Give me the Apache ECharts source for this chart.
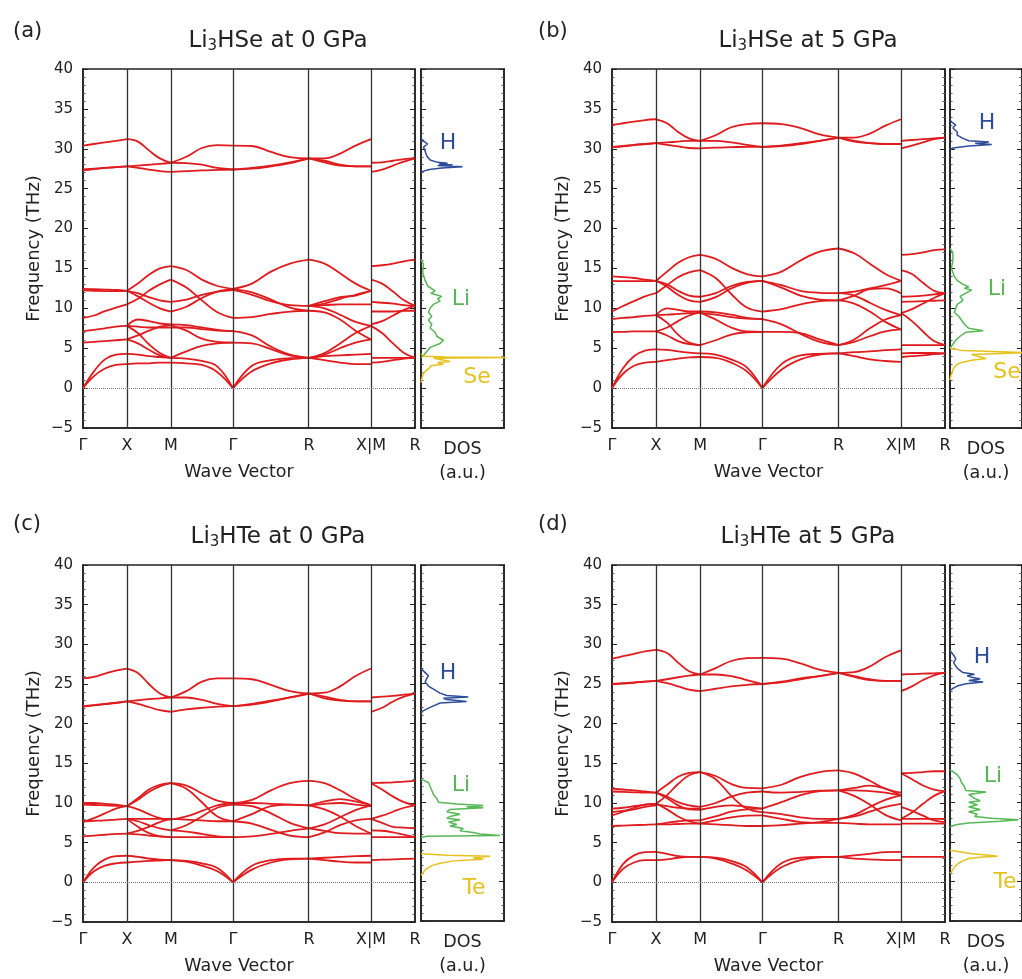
<!DOCTYPE html>
<html>
<head>
<meta charset="utf-8">
<title>Li3HSe / Li3HTe phonon bands and DOS</title>
<script src="https://cdn.jsdelivr.net/npm/echarts@6/dist/echarts.min.js"></script>
<style>
  html, body { margin: 0; padding: 0; background: #fff; }
  #chart { width: 1022px; height: 979px; }
</style>
</head>
<body>
<div id="chart"></div>
<script>
// high-symmetry path  G-X-M-G-R-X | M-R  (simple cubic, units of 2pi/a)
const kNodes = [0, 0.5, 1.0, 1.7071, 2.5731, 3.2802, 3.7802];
const kLabels = ['Γ', 'X', 'M', 'Γ', 'R', 'X|M', 'R'];
const segFrac = [0, 0.25, 0.5, 0.75, 1];   // sample points inside each segment
const yTicks = [-5, 40, 5];                 // min, max, step (THz)

// ---- (a) Li3HSe 0 GPa : frequencies (THz) at segFrac of each segment
const aGX = [
  [30.4, 30.6, 30.8, 31.0, 31.2], [27.4, 27.5, 27.6, 27.7, 27.8], [27.3, 27.45, 27.6, 27.7, 27.8],
  [12.45, 12.4, 12.35, 12.3, 12.2], [12.25, 12.2, 12.15, 12.15, 12.2], [8.8, 9.1, 9.65, 10.1, 10.5],
  [7.15, 7.3, 7.5, 7.7, 7.8], [5.7, 5.8, 5.9, 6.0, 6.1], [0, 2.1, 3.6, 4.2, 4.3], [0, 1.5, 2.45, 2.9, 3.0]
];
const aXM = [
  [31.2, 30.9, 29.8, 28.8, 28.25], [27.8, 27.9, 28.0, 28.1, 28.25], [27.8, 27.6, 27.4, 27.2, 27.1],
  [12.2, 13.1, 14.2, 15.0, 15.3], [10.5, 11.2, 12.2, 13.0, 13.6], [12.2, 11.9, 11.4, 11.0, 10.8],
  [12.2, 11.5, 10.7, 10.0, 9.6], [7.8, 8.6, 8.4, 8.1, 8.0], [7.8, 7.7, 7.6, 7.6, 7.6],
  [6.1, 6.6, 7.2, 7.7, 7.9], [7.8, 6.9, 5.5, 4.4, 3.8], [6.1, 5.6, 4.8, 4.1, 3.8],
  [4.3, 4.2, 4.0, 3.9, 3.8], [3.0, 3.1, 3.1, 3.2, 3.2]
];
const aMG = [
  [28.25, 29.0, 30.1, 30.45, 30.4], [28.25, 28.2, 28.0, 27.6, 27.4], [27.1, 27.2, 27.3, 27.35, 27.4],
  [15.3, 14.8, 13.6, 12.8, 12.45], [13.6, 12.6, 11.0, 9.5, 8.8], [10.8, 11.1, 11.7, 12.1, 12.3],
  [9.6, 10.2, 11.3, 12.1, 12.4], [8.0, 7.9, 7.6, 7.3, 7.15], [7.6, 7.6, 7.4, 7.2, 7.15],
  [7.9, 7.2, 6.2, 5.8, 5.7], [3.8, 4.6, 5.3, 5.6, 5.7], [3.8, 3.7, 3.4, 2.7, 0], [3.2, 3.1, 2.9, 2.0, 0]
];
const aGR = [
  [30.4, 30.35, 29.6, 28.95, 28.8], [27.4, 27.6, 27.9, 28.3, 28.8], [27.4, 27.5, 27.8, 28.2, 28.8],
  [12.45, 13.1, 14.6, 15.6, 16.1], [12.3, 11.7, 10.9, 10.4, 10.3], [12.4, 12.0, 11.1, 10.1, 9.7],
  [8.8, 8.9, 9.3, 9.6, 9.7], [7.15, 6.6, 5.2, 4.2, 3.8], [5.7, 5.6, 4.9, 4.1, 3.8],
  [0, 2.8, 3.5, 3.75, 3.8], [0, 2.1, 3.1, 3.6, 3.8]
];
const aRX = [
  [28.8, 28.8, 29.4, 30.4, 31.2], [28.8, 28.5, 28.0, 27.8, 27.8], [28.8, 28.3, 27.9, 27.8, 27.8],
  [16.1, 15.6, 14.4, 13.1, 12.2], [10.3, 10.6, 11.2, 11.7, 12.2], [10.3, 10.9, 11.4, 11.6, 12.2],
  [10.3, 10.4, 10.5, 10.5, 10.5], [10.3, 10.0, 9.2, 8.3, 7.8], [9.7, 9.5, 8.6, 7.2, 6.1],
  [3.8, 4.4, 5.6, 6.9, 7.8], [3.8, 4.2, 5.0, 5.7, 6.1], [3.8, 4.0, 4.1, 4.2, 4.3], [3.8, 3.5, 3.2, 3.0, 3.0]
];
const aMR = [
  [28.25, 28.3, 28.5, 28.7, 28.8], [27.1, 27.4, 27.9, 28.4, 28.8], [15.3, 15.4, 15.6, 15.9, 16.1],
  [13.6, 13.1, 12.1, 11.0, 10.3], [10.8, 10.7, 10.6, 10.4, 10.3], [9.6, 9.6, 9.6, 9.7, 9.7],
  [8.0, 8.4, 9.1, 9.8, 10.3], [7.8, 6.9, 5.6, 4.4, 3.8], [3.8, 3.8, 3.8, 3.8, 3.8], [3.2, 3.3, 3.5, 3.7, 3.8]
];

// ---- (b) Li3HSe 5 GPa
const bGX = [
  [33.0, 33.2, 33.4, 33.6, 33.7], [30.25, 30.35, 30.5, 30.6, 30.7], [30.2, 30.3, 30.45, 30.6, 30.7],
  [14.0, 13.9, 13.8, 13.6, 13.45], [13.45, 13.4, 13.4, 13.4, 13.45], [9.6, 10.3, 10.9, 11.5, 11.9],
  [8.65, 8.8, 8.9, 9.05, 9.15], [7.05, 7.05, 7.1, 7.1, 7.1], [0, 2.5, 4.0, 4.7, 4.85], [0, 1.8, 2.8, 3.2, 3.3]
];
const bXM = [
  [33.7, 33.2, 32.1, 31.3, 31.0], [30.7, 30.8, 30.9, 31.0, 31.0], [30.7, 30.5, 30.3, 30.1, 30.05],
  [13.45, 14.6, 15.7, 16.4, 16.7], [11.9, 12.9, 13.9, 14.5, 14.8], [13.45, 13.0, 12.2, 11.6, 11.45],
  [13.45, 12.7, 11.7, 11.0, 10.8], [9.15, 10.0, 9.8, 9.6, 9.6], [9.15, 9.2, 9.3, 9.4, 9.4],
  [7.1, 7.6, 8.4, 9.1, 9.5], [9.15, 8.2, 6.7, 5.7, 5.4], [7.1, 6.6, 5.9, 5.5, 5.4],
  [4.85, 4.8, 4.6, 4.45, 4.35], [3.3, 3.5, 3.7, 3.85, 3.9]
];
const bMG = [
  [31.0, 31.7, 32.7, 33.1, 33.2], [31.0, 31.0, 30.8, 30.5, 30.25], [30.05, 30.15, 30.2, 30.25, 30.25],
  [16.7, 16.2, 15.1, 14.3, 14.0], [14.8, 13.8, 11.8, 10.1, 9.6], [11.45, 11.9, 12.8, 13.3, 13.45],
  [10.8, 11.4, 12.5, 13.2, 13.45], [9.6, 9.5, 9.2, 8.8, 8.65], [9.4, 9.2, 8.9, 8.7, 8.65],
  [9.5, 8.6, 7.6, 7.1, 7.05], [5.4, 6.0, 6.7, 7.0, 7.05], [4.35, 4.2, 3.6, 2.6, 0], [3.9, 3.8, 3.2, 2.1, 0]
];
const bGR = [
  [33.2, 33.1, 32.6, 31.8, 31.4], [30.25, 30.4, 30.7, 31.0, 31.4], [30.25, 30.35, 30.6, 31.0, 31.4],
  [14.0, 14.6, 16.0, 17.1, 17.5], [13.45, 12.9, 12.2, 11.95, 11.9], [13.45, 12.6, 11.6, 11.1, 11.0],
  [9.6, 9.9, 10.5, 10.9, 11.0], [8.65, 8.0, 6.8, 5.8, 5.4], [7.05, 7.05, 6.9, 6.1, 5.4],
  [0, 3.0, 4.1, 4.3, 4.35], [0, 2.3, 3.6, 4.2, 4.35]
];
const bRX = [
  [31.4, 31.4, 31.9, 32.9, 33.7], [31.4, 31.0, 30.7, 30.6, 30.6], [31.4, 30.9, 30.7, 30.6, 30.6],
  [17.5, 16.9, 15.6, 14.3, 13.45], [11.9, 12.1, 12.5, 12.9, 13.45], [11.0, 11.6, 12.4, 12.5, 11.9],
  [11.0, 10.6, 9.6, 8.3, 7.35], [11.9, 11.6, 10.7, 9.8, 9.15], [5.4, 6.1, 7.5, 8.6, 9.15],
  [5.4, 5.8, 6.5, 7.1, 7.35], [4.35, 4.5, 4.6, 4.75, 4.85], [4.35, 4.0, 3.6, 3.4, 3.3]
];
const bMR = [
  [31.0, 31.1, 31.2, 31.3, 31.4], [30.05, 30.4, 30.8, 31.2, 31.4], [16.7, 16.8, 17.0, 17.3, 17.4],
  [14.8, 14.3, 13.2, 12.2, 11.9], [11.45, 11.5, 11.6, 11.75, 11.9], [10.8, 10.85, 10.9, 10.95, 11.0],
  [9.4, 9.9, 10.6, 11.3, 11.9], [9.4, 8.4, 7.1, 5.9, 5.4], [5.4, 5.4, 5.4, 5.4, 5.4],
  [4.35, 4.4, 4.4, 4.4, 4.35], [3.9, 4.0, 4.1, 4.25, 4.35]
];

// ---- (c) Li3HTe 0 GPa
const cGX = [
  [25.7, 25.9, 26.3, 26.7, 26.95], [22.2, 22.35, 22.5, 22.65, 22.8], [22.15, 22.3, 22.45, 22.6, 22.8],
  [10.0, 10.0, 9.9, 9.8, 9.6], [9.8, 9.75, 9.7, 9.65, 9.6], [7.6, 8.1, 8.7, 9.3, 9.6],
  [7.7, 7.75, 7.8, 7.9, 8.0], [5.8, 5.9, 6.0, 6.1, 6.15], [0, 1.9, 2.9, 3.3, 3.35], [0, 1.4, 2.1, 2.4, 2.5]
];
const cXM = [
  [26.95, 26.4, 25.0, 23.8, 23.3], [22.8, 22.95, 23.1, 23.2, 23.3], [22.8, 22.5, 22.1, 21.7, 21.5],
  [9.6, 10.6, 11.7, 12.3, 12.5], [9.6, 10.4, 11.4, 12.1, 12.5], [9.6, 9.2, 8.6, 8.1, 7.9],
  [8.0, 7.7, 7.2, 6.8, 6.55], [8.0, 8.0, 8.0, 8.0, 8.0], [6.15, 6.5, 7.0, 7.6, 8.0],
  [8.0, 7.0, 6.2, 5.8, 5.7], [6.15, 6.05, 5.9, 5.8, 5.7], [3.35, 3.2, 3.0, 2.85, 2.8], [2.5, 2.6, 2.7, 2.75, 2.8]
];
const cMG = [
  [23.3, 24.1, 25.3, 25.7, 25.7], [23.3, 23.3, 23.0, 22.5, 22.2], [21.5, 21.8, 22.0, 22.15, 22.2],
  [12.5, 12.2, 11.2, 10.3, 10.0], [12.5, 11.8, 10.1, 8.3, 7.7], [7.9, 8.3, 9.0, 9.7, 10.0],
  [6.55, 7.2, 8.3, 9.4, 9.8], [8.0, 7.9, 7.8, 7.7, 7.7], [5.7, 5.7, 5.7, 5.7, 5.7],
  [6.55, 6.4, 6.1, 5.8, 5.7], [2.8, 2.7, 2.4, 1.8, 0], [2.8, 2.6, 2.1, 1.4, 0]
];
const cGR = [
  [25.7, 25.6, 24.9, 24.1, 23.8], [22.2, 22.5, 22.9, 23.3, 23.8], [22.2, 22.4, 22.8, 23.3, 23.8],
  [10.0, 10.4, 11.6, 12.5, 12.8], [10.0, 10.0, 9.9, 9.8, 9.7], [9.8, 9.6, 8.7, 7.5, 6.8],
  [7.7, 8.6, 9.6, 9.8, 9.7], [7.7, 7.4, 6.6, 5.9, 5.7], [5.7, 5.8, 6.1, 6.5, 6.8],
  [0, 2.1, 2.8, 3.0, 3.0], [0, 1.6, 2.5, 2.9, 3.0]
];
const cRX = [
  [23.8, 23.9, 24.7, 26.0, 26.95], [23.8, 23.2, 22.9, 22.8, 22.8], [23.8, 23.4, 23.0, 22.8, 22.8],
  [12.8, 12.5, 11.6, 10.5, 9.7], [9.7, 10.2, 10.5, 10.2, 9.7], [9.7, 9.9, 10.0, 9.8, 9.6],
  [6.8, 7.3, 8.2, 9.1, 9.7], [5.7, 6.3, 7.2, 7.8, 8.0], [9.7, 9.2, 8.3, 7.1, 6.15],
  [6.8, 6.5, 6.2, 6.15, 6.15], [3.0, 3.1, 3.2, 3.3, 3.35], [3.0, 2.8, 2.6, 2.5, 2.5]
];
const cMR = [
  [23.3, 23.4, 23.5, 23.65, 23.8], [21.5, 22.0, 22.8, 23.4, 23.8], [12.5, 12.55, 12.6, 12.7, 12.8],
  [12.5, 11.7, 10.8, 10.1, 9.7], [8.0, 8.4, 8.9, 9.4, 9.7], [8.0, 7.5, 7.0, 6.9, 6.8],
  [6.55, 6.5, 6.3, 6.0, 5.7], [5.7, 5.7, 5.7, 5.7, 5.7], [2.8, 2.85, 2.9, 2.95, 3.0]
];

// ---- (d) Li3HTe 5 GPa
const dGX = [
  [28.2, 28.5, 28.8, 29.1, 29.3], [25.0, 25.1, 25.2, 25.3, 25.4], [24.95, 25.05, 25.15, 25.3, 25.4],
  [11.8, 11.7, 11.6, 11.45, 11.3], [11.45, 11.4, 11.35, 11.3, 11.3], [8.45, 8.9, 9.4, 9.8, 9.9],
  [9.3, 9.4, 9.6, 9.8, 9.9], [8.85, 9.0, 9.2, 9.5, 9.7], [7.1, 7.15, 7.2, 7.25, 7.3],
  [0, 2.3, 3.4, 3.8, 3.85], [0, 1.7, 2.5, 2.8, 2.8]
];
const dXM = [
  [29.3, 28.9, 27.7, 26.6, 26.2], [25.4, 25.6, 25.85, 26.05, 26.2], [25.4, 25.1, 24.7, 24.3, 24.1],
  [11.3, 12.3, 13.3, 13.8, 13.9], [9.9, 11.0, 12.4, 13.5, 13.9], [11.3, 10.8, 10.1, 9.7, 9.5],
  [11.3, 10.6, 9.7, 9.2, 9.15], [9.9, 9.6, 9.4, 9.3, 9.3], [9.9, 9.2, 8.3, 7.7, 7.4],
  [7.3, 7.5, 7.7, 7.8, 7.8], [7.3, 7.3, 7.35, 7.4, 7.4], [3.85, 3.6, 3.3, 3.2, 3.2], [2.8, 2.9, 3.1, 3.2, 3.2]
];
const dMG = [
  [26.2, 27.0, 27.9, 28.25, 28.3], [26.2, 26.2, 26.0, 25.5, 25.0], [24.1, 24.4, 24.7, 24.9, 25.0],
  [13.9, 13.4, 12.4, 11.9, 11.85], [13.9, 13.0, 10.9, 9.3, 8.85], [9.5, 10.0, 10.8, 11.3, 11.45],
  [9.15, 9.5, 9.7, 9.5, 9.3], [7.8, 8.3, 8.9, 9.2, 9.3], [7.4, 7.8, 8.2, 8.4, 8.45],
  [7.4, 7.3, 7.2, 7.1, 7.1], [3.2, 3.1, 2.7, 1.9, 0], [3.2, 3.0, 2.4, 1.5, 0]
];
const dGR = [
  [28.3, 28.2, 27.6, 26.8, 26.4], [25.0, 25.3, 25.7, 26.0, 26.4], [25.0, 25.2, 25.6, 26.0, 26.4],
  [11.85, 12.3, 13.3, 13.9, 14.1], [11.45, 11.3, 11.4, 11.55, 11.6], [9.3, 10.1, 11.0, 11.5, 11.6],
  [8.85, 8.6, 8.2, 8.0, 8.0], [8.45, 8.0, 7.6, 7.5, 7.5], [7.1, 7.2, 7.4, 7.6, 8.0],
  [0, 2.4, 3.1, 3.2, 3.2], [0, 1.9, 2.8, 3.15, 3.2]
];
const dRX = [
  [26.4, 26.5, 27.2, 28.4, 29.25], [26.4, 25.9, 25.5, 25.4, 25.4], [26.4, 26.0, 25.6, 25.4, 25.4],
  [14.1, 13.7, 12.8, 11.8, 11.3], [11.6, 11.9, 12.2, 11.8, 10.95], [11.6, 11.6, 11.5, 11.3, 10.95],
  [8.0, 8.5, 9.5, 10.4, 10.95], [8.0, 8.3, 8.9, 9.5, 9.9], [11.6, 10.9, 9.8, 8.5, 7.8],
  [7.5, 7.4, 7.3, 7.3, 7.3], [3.2, 3.4, 3.6, 3.8, 3.85], [3.2, 3.0, 2.9, 2.8, 2.8]
];
const dMR = [
  [26.2, 26.25, 26.3, 26.35, 26.4], [24.1, 24.7, 25.5, 26.1, 26.4], [13.75, 13.8, 13.9, 14.0, 14.0],
  [13.75, 13.0, 12.2, 11.7, 11.5], [8.0, 8.8, 9.9, 10.9, 11.5], [9.5, 9.0, 8.4, 7.8, 7.6],
  [8.0, 8.0, 8.0, 8.0, 8.0], [7.4, 7.4, 7.4, 7.4, 7.4], [3.2, 3.2, 3.2, 3.2, 3.2]
];

// ---- projected DOS: [frequency THz, DOS a.u. (0..1 of panel width)]
const aDosH = [[31.3,0],[30.9,0.04],[30.6,0.08],[30.2,0.03],[29.7,0.05],[29.1,0.07],[28.6,0.11],[28.3,0.2],[28.2,0.32],[28.1,0.22],[28.0,0.38],[27.9,0.2],[27.75,0.5],[27.6,0.25],[27.4,0.1],[27.2,0.03],[27.0,0]];
const aDosLi = [[16.1,0],[15.5,0.03],[14.5,0.02],[13.5,0.05],[12.8,0.08],[12.2,0.17],[11.9,0.12],[11.5,0.25],[11.2,0.2],[10.9,0.23],[10.5,0.15],[10.0,0.11],[9.5,0.09],[9.0,0.13],[8.5,0.09],[8.0,0.13],[7.5,0.11],[7.0,0.17],[6.5,0.19],[6.0,0.27],[5.6,0.23],[5.1,0.11],[4.6,0.07],[4.1,0.03],[3.8,0]];
const aDosSe = [[4.3,0],[4.0,0.04],[3.9,0.3],[3.85,1.05],[3.75,0.15],[3.55,0.25],[3.35,0.35],[3.2,0.2],[3.0,0.27],[2.8,0.12],[2.5,0.1],[2.1,0.05],[1.6,0.02],[1.0,0.005],[0.7,0]];
const bDosH = [[33.6,0],[33.3,0.03],[33.0,0.08],[32.6,0.04],[32.1,0.1],[31.7,0.1],[31.3,0.18],[31.0,0.26],[30.85,0.54],[30.7,0.35],[30.55,0.58],[30.35,0.26],[30.1,0.04],[29.9,0]];
const bDosLi = [[17.5,0],[17.0,0.04],[16.0,0.04],[15.0,0.02],[14.0,0.06],[13.5,0.1],[13.0,0.18],[12.7,0.26],[12.5,0.2],[12.3,0.3],[12.0,0.24],[11.5,0.14],[11.0,0.18],[10.5,0.1],[10.0,0.08],[9.5,0.06],[9.0,0.12],[8.5,0.16],[8.0,0.2],[7.5,0.26],[7.2,0.46],[7.0,0.22],[6.5,0.14],[6.0,0.08],[5.5,0.04],[5.0,0]];
const bDosSe = [[5.0,0],[4.7,0.18],[4.45,1.05],[4.2,0.3],[4.0,0.38],[3.7,0.5],[3.5,0.3],[3.2,0.16],[3.0,0.1],[2.5,0.05],[2.0,0.03],[1.5,0.01],[1.0,0]];
const cDosH = [[26.9,0],[26.4,0.05],[26.0,0.09],[25.7,0.07],[25.2,0.05],[24.7,0.09],[24.3,0.15],[23.8,0.23],[23.5,0.31],[23.3,0.57],[23.15,0.27],[23.0,0.31],[22.75,0.55],[22.55,0.23],[22.0,0.11],[21.6,0.03],[21.3,0]];
const cDosLi = [[12.9,0],[12.5,0.09],[12.0,0.11],[11.5,0.13],[11.0,0.15],[10.5,0.19],[10.0,0.21],[9.8,0.43],[9.6,0.75],[9.45,0.55],[9.3,0.75],[9.1,0.35],[8.8,0.31],[8.5,0.47],[8.2,0.35],[8.0,0.31],[7.8,0.47],[7.5,0.33],[7.2,0.43],[7.0,0.35],[6.7,0.51],[6.4,0.47],[6.2,0.63],[6.0,0.71],[5.8,0.95],[5.7,0.07],[5.55,0]];
const cDosTe = [[3.5,0],[3.3,0.31],[3.2,0.83],[3.0,0.63],[2.8,0.75],[2.6,0.39],[2.3,0.23],[2.0,0.13],[1.5,0.05],[1.0,0.02],[0.8,0]];
const dDosH = [[29.3,0],[28.9,0.02],[28.5,0.06],[28.1,0.08],[27.7,0.05],[27.2,0.08],[26.8,0.12],[26.4,0.18],[26.2,0.34],[26.0,0.24],[25.8,0.3],[25.6,0.42],[25.4,0.26],[25.2,0.46],[25.0,0.22],[24.7,0.1],[24.4,0.04],[24.1,0]];
const dDosLi = [[14.1,0],[14.0,0.02],[13.5,0.1],[13.0,0.14],[12.5,0.16],[12.0,0.2],[11.5,0.22],[11.3,0.5],[11.0,0.26],[10.5,0.34],[10.2,0.42],[10.0,0.26],[9.7,0.38],[9.4,0.26],[9.1,0.42],[8.8,0.26],[8.5,0.38],[8.2,0.34],[8.0,0.58],[7.8,0.95],[7.6,0.7],[7.4,0.26],[7.2,0.1],[7.0,0.02],[6.9,0]];
const dDosTe = [[3.95,0],[3.9,0.02],[3.7,0.18],[3.5,0.3],[3.3,0.54],[3.2,0.66],[3.1,0.46],[2.9,0.26],[2.6,0.18],[2.3,0.12],[2.0,0.08],[1.5,0.04],[1.2,0.02],[1.0,0]];

const FONT = '"DejaVu Sans", Verdana, sans-serif';
const INK = '#222';
const RED = '#e01b1e';
const COL = { H: '#2d4c99', Li: '#55b755', X: '#e6c01c' };

const panels = [
  { tag: '(a)', sub: 'HSe at 0 GPa', x: 83, y: 69, w: 332, dosX: 421,
    bands: [aGX, aXM, aMG, aGR, aRX, aMR], dos: [aDosH, aDosLi, aDosSe], anion: 'Se',
    tagPos: [13, 32], titlePos: [278, 41], lab: { H: [448, 143], Li: [461, 299], X: [477, 377] } },
  { tag: '(b)', sub: 'HSe at 5 GPa', x: 612, y: 69, w: 333, dosX: 950,
    bands: [bGX, bXM, bMG, bGR, bRX, bMR], dos: [bDosH, bDosLi, bDosSe], anion: 'Se',
    tagPos: [538, 32], titlePos: [808, 41], lab: { H: [987, 123], Li: [997, 289], X: [1007, 372] } },
  { tag: '(c)', sub: 'HTe at 0 GPa', x: 83, y: 565, w: 332, dosX: 421,
    bands: [cGX, cXM, cMG, cGR, cRX, cMR], dos: [cDosH, cDosLi, cDosTe], anion: 'Te',
    tagPos: [13, 525], titlePos: [278, 537], lab: { H: [448, 673], Li: [461, 785], X: [474, 888] } },
  { tag: '(d)', sub: 'HTe at 5 GPa', x: 612, y: 565, w: 333, dosX: 950,
    bands: [dGX, dXM, dMG, dGR, dRX, dMR], dos: [dDosH, dDosLi, dDosTe], anion: 'Te',
    tagPos: [538, 525], titlePos: [808, 537], lab: { H: [982, 657], Li: [993, 776], X: [1005, 882] } }
];

const fmtY = v => (v < 0 ? '\u2212' + (-v) : String(v));
const fmtK = v => {
  const i = kNodes.findIndex(k => Math.abs(k - v) < 1e-6);
  return i < 0 ? '' : kLabels[i];
};

const option = {
  animation: false,
  backgroundColor: '#fff',
  grid: [], xAxis: [], yAxis: [], series: [], graphic: []
};

function yAxisBase(gi) {
  return {
    gridIndex: gi, type: 'value', min: yTicks[0], max: yTicks[1], interval: yTicks[2],
    axisLine: { show: true, onZero: false, lineStyle: { color: INK, width: 1.6 } },
    axisTick: { show: true, inside: true, length: 5, lineStyle: { color: INK } },
    minorTick: { show: true, splitNumber: 5, length: 2.5, lineStyle: { color: '#555' } },
    splitLine: { show: false }
  };
}

panels.forEach(p => {
  const H = 359;
  const gB = option.grid.length;
  option.grid.push({ left: p.x, top: p.y, width: p.w, height: H, show: true, borderColor: INK, borderWidth: 1.6 });
  const gD = option.grid.length;
  option.grid.push({ left: p.dosX, top: p.y, width: 83, height: H, show: true, borderColor: INK, borderWidth: 1.6 });

  const xB = option.xAxis.length;
  option.xAxis.push({
    gridIndex: gB, type: 'value', min: kNodes[0], max: kNodes[kNodes.length - 1],
    axisLine: { show: true, onZero: false, lineStyle: { color: INK, width: 1.6 } },
    axisTick: { show: false }, splitLine: { show: false },
    axisLabel: { customValues: kNodes, formatter: fmtK, hideOverlap: false,
      fontSize: 16, fontFamily: FONT, color: INK, margin: 10 },
    name: 'Wave Vector', nameLocation: 'middle', nameGap: 32,
    nameTextStyle: { fontSize: 17.5, fontFamily: FONT, color: INK, lineHeight: 24, padding: [0, 20, 0, 0] }
  });
  const xD = option.xAxis.length;
  option.xAxis.push({
    gridIndex: gD, type: 'value', min: 0, max: 1,
    axisLine: { show: true, onZero: false, lineStyle: { color: INK, width: 1.6 } },
    axisTick: { show: false }, axisLabel: { show: false }, splitLine: { show: false },
    name: 'DOS\n(a.u.)', nameLocation: 'middle', nameGap: 9,
    nameTextStyle: { fontSize: 17.5, fontFamily: FONT, color: INK, lineHeight: 24 }
  });

  const yB = option.yAxis.length;
  option.yAxis.push(Object.assign(yAxisBase(gB), {
    axisLabel: { fontSize: 15, fontFamily: FONT, color: INK, margin: 10, formatter: fmtY },
    name: 'Frequency (THz)', nameLocation: 'middle', nameGap: 40,
    nameTextStyle: { fontSize: 18, fontFamily: FONT, color: INK }
  }));
  option.yAxis.push(Object.assign(yAxisBase(gB), { position: 'right', axisLabel: { show: false } }));
  const yD = option.yAxis.length;
  option.yAxis.push(Object.assign(yAxisBase(gD), { axisLabel: { show: false } }));
  option.yAxis.push(Object.assign(yAxisBase(gD), { position: 'right', axisLabel: { show: false } }));

  // band curves, one line per traced branch in every path segment
  let first = true;
  p.bands.forEach((curves, s) => {
    const k0 = kNodes[s], k1 = kNodes[s + 1];
    curves.forEach(c => {
      const ser = {
        type: 'line', xAxisIndex: xB, yAxisIndex: yB, silent: true,
        smooth: 0.4, symbol: 'none',
        lineStyle: { color: RED, width: 1.8 },
        data: c.map((f, i) => [k0 + segFrac[i] * (k1 - k0), f]),
        z: 3
      };
      if (first) {
        ser.markLine = {
          silent: true, symbol: ['none', 'none'], label: { show: false },
          lineStyle: { color: '#333', width: 1.3, type: 'solid' },
          data: kNodes.slice(1, -1).map(k => ({ xAxis: k }))
            .concat([{ yAxis: 0, lineStyle: { color: '#777', type: 'dotted', width: 1 } }])
        };
        first = false;
      }
      option.series.push(ser);
    });
  });

  // projected DOS
  [['H', p.dos[0]], ['Li', p.dos[1]], ['X', p.dos[2]]].forEach(([el, pts]) => {
    option.series.push({
      type: 'line', xAxisIndex: xD, yAxisIndex: yD, silent: true, symbol: 'none',
      lineStyle: { color: COL[el], width: 1.5 },
      data: pts.map(d => [d[1], d[0]]), z: 3
    });
  });

  // texts
  option.graphic.push({
    type: 'text', x: p.tagPos[0], y: p.tagPos[1], silent: true,
    style: { text: p.tag, fontSize: 21, fontFamily: FONT, fill: INK, align: 'left', verticalAlign: 'middle' }
  });
  option.graphic.push({
    type: 'text', x: p.titlePos[0], y: p.titlePos[1], silent: true,
    style: {
      text: '{m|Li}{s|3}{m|' + p.sub + '}', fontSize: 23, fontFamily: FONT, fill: INK,
      align: 'center', verticalAlign: 'middle',
      rich: {
        m: { fontSize: 23, fontFamily: FONT, fill: INK },
        s: { fontSize: 15, fontFamily: FONT, fill: INK, padding: [10, 0, 0, 0] }
      }
    }
  });
  [['H', 'H'], ['Li', 'Li'], ['X', p.anion]].forEach(([el, txt]) => {
    option.graphic.push({
      type: 'text', x: p.lab[el][0], y: p.lab[el][1], silent: true,
      style: { text: txt, fontSize: 22, fontFamily: FONT, fill: COL[el], align: 'center', verticalAlign: 'middle' }
    });
  });
});

const chart = echarts.init(document.getElementById('chart'), null, { renderer: 'canvas' });
chart.setOption(option);
</script>
</body>
</html>
